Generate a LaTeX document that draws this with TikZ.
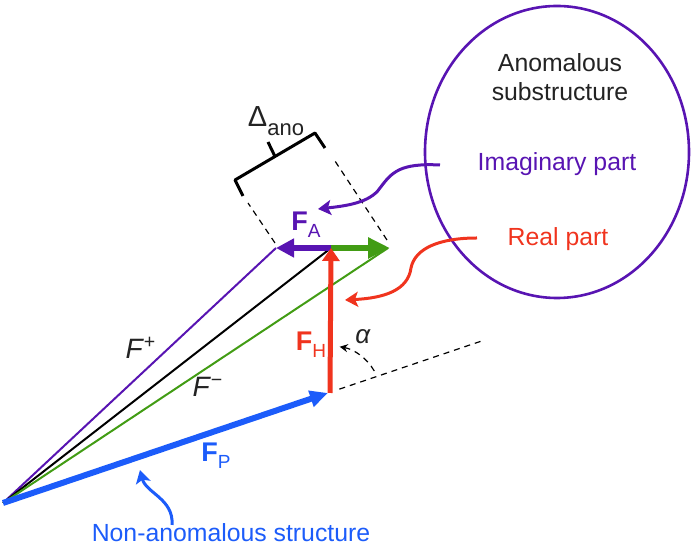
\documentclass[tikz,border=0pt]{standalone}
\usepackage{fontspec}
\setmainfont{Liberation Sans}
\usetikzlibrary{arrows.meta, positioning, shapes.geometric, calc}

\definecolor{imagpurple}{RGB}{88,20,178}
\definecolor{realred}{RGB}{240,52,30}
\definecolor{protblue}{RGB}{28,92,250}
\definecolor{minusgreen}{RGB}{66,156,20}
\definecolor{textgray}{RGB}{35,35,35}

% bold vector with a lowered subscript
\newcommand{\vsub}[2]{\textbf{#1}\raisebox{-3.5pt}{\fontsize{9.5pt}{10pt}\selectfont #2}}

\begin{document}
\begin{tikzpicture}[x=0.5pt, y=0.5pt,
            % Styles
            txt/.style={font=\fontsize{12.4pt}{14.5pt}\selectfont, inner sep=0pt, align=center},
            vecsym/.style={font=\fontsize{13.5pt}{14pt}\selectfont, inner sep=0pt},
            thinline/.style={line width=1pt},
            pointer/.style={line width=1.5pt, -{Stealth[length=6.5pt,width=7.5pt,inset=1.5pt]}},
            guide/.style={line width=0.6pt, dash pattern=on 3pt off 2.5pt}
        ]
        \useasboundingbox (0,0) rectangle (692,551);

        % Points
        \coordinate (origin) at (3,48);
        \coordinate (ptip) at (328,158);
        \coordinate (hbase) at (330,158);
        \coordinate (htip) at (331,303);
        \coordinate (aplus) at (276,303);
        \coordinate (aminus) at (390,303);

        % F+, F and F- lines
        \draw [thinline, imagpurple] (origin) -- (aplus);
        \draw [thinline, black] (origin) -- (htip);
        \draw [thinline, minusgreen] (origin) -- ([xshift=-1pt]aminus);

        % Vectors
        \draw [line width=3pt, protblue, -{Triangle[length=9pt,width=8pt]}] (origin) -- (ptip);
        \draw [line width=3pt, imagpurple, -{Triangle[length=9pt,width=9pt]}] (htip) -- (aplus);
        \draw [line width=3pt, minusgreen, -{Triangle[length=11pt,width=10pt]}] (htip) -- (aminus);
        \draw [line width=2.5pt, realred, -{Triangle[length=6.5pt,width=8.5pt]}] (hbase) -- (htip);

        % Phase angle
        \draw [guide] ($(origin)!1.035!(ptip)$) -- ($(origin)!1.47!(ptip)$);
        \draw [guide, -{Stealth[length=4pt,width=4pt]}] ([shift={(30:50)}]331,155) arc [start angle=30, end angle=80, radius=50];
        \node [vecsym, font=\fontsize{13pt}{13pt}\selectfont, text=textgray] (alpha) at (363,214) {\textit{α}};

        % Anomalous difference
        \coordinate (dleft) at (248,348);
        \coordinate (dright) at (333,393);
        \draw [guide] (275,308) -- (dleft);
        \draw [guide] (387,311) -- (dright);
        \draw [line width=1.5pt, line join=round] (243,355) -- (235,371) -- (315,418) -- (325,403);
        \draw [line width=1.5pt] (275,394.5) -- (268,409);
        \node [txt, text=textgray] (delta) at (276,430) {{\fontsize{14.5pt}{15pt}\selectfont Δ}\raisebox{-4.5pt}{\fontsize{11pt}{12pt}\selectfont ano}};

        % Vector labels
        \node [vecsym, text=imagpurple] (fa) at (306,326) {\vsub{F}{A}};
        \node [vecsym, text=realred] (fh) at (311,206) {\vsub{F}{H}};
        \node [vecsym, text=protblue] (fp) at (216,95) {\vsub{F}{P}};
        \node [vecsym, font=\fontsize{14pt}{14pt}\selectfont, text=textgray] (fplus) at (141,203) {\textit{F}\textsuperscript{+}};
        \node [vecsym, font=\fontsize{14pt}{14pt}\selectfont, text=textgray] (fminus) at (208,164) {\textit{F}\textsuperscript{−}};

        % Anomalous substructure
        \node [ellipse, draw=imagpurple, line width=1.3pt, inner sep=0pt, minimum width=132pt, minimum height=146pt] (substructure) at (557,399) {};
        \node [txt, text=textgray] (anomtitle) at (560,474) {Anomalous\\substructure};
        \node [txt, text=imagpurple] (imag) at (557,387) {Imaginary part};
        \node [txt, text=realred] (real) at (558,312) {Real part};
        \node [txt, text=protblue] (nonanom) at (231,18) {Non-anomalous structure};

        % Pointers
        \coordinate (imagfrom) at (440,386);
        \coordinate (imagto) at (318,342);
        \coordinate (realfrom) at (477,313);
        \coordinate (realto) at (345,251);
        \coordinate (nonanomfrom) at (172,26);
        \coordinate (nonanomto) at (140,81);
        \draw [pointer, imagpurple] (imagfrom) .. controls (400,388) and (392,379) .. (380,363) .. controls (370,348) and (345,345) .. (imagto);
        \draw [pointer, realred] (realfrom) .. controls (440,313) and (415,303) .. (411,283) .. controls (408,261) and (385,253) .. (realto);
        \draw [pointer, protblue] (nonanomfrom) .. controls (174,52) and (146,58) .. (nonanomto);

    \end{tikzpicture}
\end{document}
